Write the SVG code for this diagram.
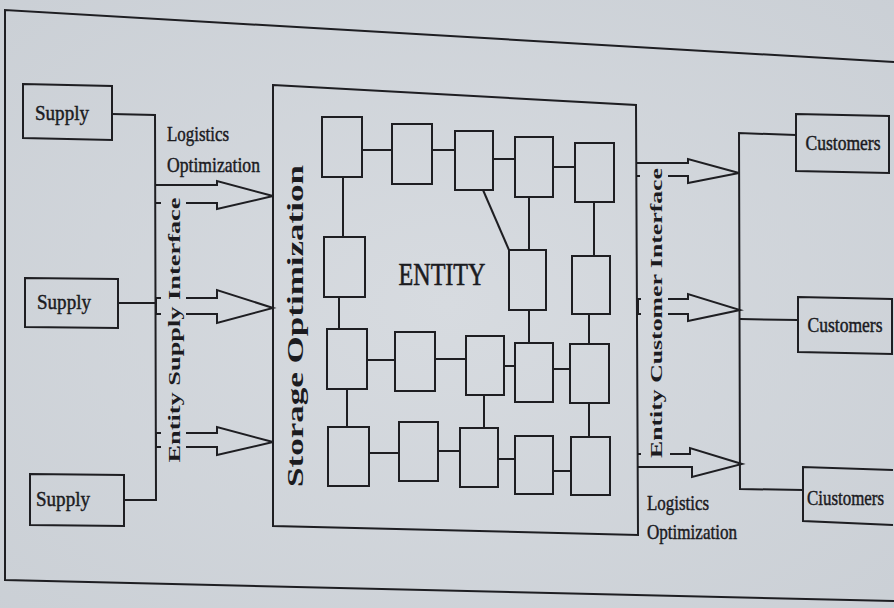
<svg xmlns="http://www.w3.org/2000/svg" width="894" height="608" viewBox="0 0 894 608">
  <defs>
    <radialGradient id="paper" cx="50%" cy="50%" r="75%">
      <stop offset="0" stop-color="#d7dbe0"/>
      <stop offset="1" stop-color="#cacfd5"/>
    </radialGradient>
  </defs>
  <style>
    .ln { fill: none; stroke: #1e1e22; stroke-width: 2; stroke-linejoin: miter; }
    .box { fill: none; stroke: #1e1e22; stroke-width: 2; }
    .lbl { font-family: "Liberation Serif", "Times New Roman", serif; font-size: 21px; fill: #1b1b1f; stroke: #1b1b1f; stroke-width: 0.45; }
    .cust { font-size: 20px; }
    .vt { font-family: "Liberation Serif", "Times New Roman", serif; font-weight: bold; fill: #1b1b1f; }
    .ent { font-family: "Liberation Serif", "Times New Roman", serif; font-size: 31px; fill: #1b1b1f; stroke: #1b1b1f; stroke-width: 0.6; }
  </style>

  <!-- page -->
  <rect x="0" y="0" width="894" height="608" fill="url(#paper)"/>

  <!-- outer frame (open on the right) -->
  <polyline class="ln" points="894,62 5,10 5,580 894,601"/>

  <!-- supply side -->
  <g id="supply-1">
    <polygon class="box" points="23,84 112,86 112,140 23,138"/>
    <text class="lbl" x="62" y="120" text-anchor="middle" textLength="54" lengthAdjust="spacingAndGlyphs">Supply</text>
  </g>
  <g id="supply-2">
    <polygon class="box" points="25,278 118,279 118,328 25,327"/>
    <text class="lbl" x="64" y="309" text-anchor="middle" textLength="54" lengthAdjust="spacingAndGlyphs">Supply</text>
  </g>
  <g id="supply-3">
    <polygon class="box" points="30,474 124,475 124,526 30,525"/>
    <text class="lbl" x="63" y="506" text-anchor="middle" textLength="54" lengthAdjust="spacingAndGlyphs">Supply</text>
  </g>

  <g id="supply-labels">
    <text class="lbl" x="167" y="141" textLength="62" lengthAdjust="spacingAndGlyphs">Logistics</text>
    <text class="lbl" x="167" y="172" textLength="93" lengthAdjust="spacingAndGlyphs">Optimization</text>
    <text class="vt" font-size="17" transform="translate(180,330) rotate(-90)" text-anchor="middle" textLength="265" lengthAdjust="spacingAndGlyphs">Entity Supply Interface</text>
  </g>

  <!-- storage / entity block -->
  <g id="storage">
    <polygon class="box" points="273,85 636,105 638,535 273,526"/>
    <text class="vt" font-size="24" transform="translate(303,326) rotate(-90)" text-anchor="middle" textLength="322" lengthAdjust="spacingAndGlyphs">Storage Optimization</text>
    <text class="ent" x="442" y="285" text-anchor="middle" textLength="87" lengthAdjust="spacingAndGlyphs">ENTITY</text>
  </g>

  <g id="cells">
    <!-- row 1 -->
    <rect id="a1" class="box" x="322" y="117" width="40" height="60"/>
    <rect id="a2" class="box" x="392" y="124" width="40" height="60"/>
    <rect id="a3" class="box" x="455" y="131" width="38" height="59"/>
    <rect id="a4" class="box" x="515" y="137" width="38" height="60"/>
    <rect id="a5" class="box" x="575" y="143" width="39" height="59"/>
    <!-- row 2 -->
    <rect id="b1" class="box" x="324" y="237" width="41" height="60"/>
    <rect id="b4" class="box" x="509" y="250" width="37" height="60"/>
    <rect id="b5" class="box" x="572" y="256" width="38" height="58"/>
    <!-- row 3 -->
    <rect id="c1" class="box" x="327" y="329" width="40" height="60"/>
    <rect id="c2" class="box" x="395" y="332" width="40" height="59"/>
    <rect id="c3" class="box" x="466" y="336" width="38" height="59"/>
    <rect id="c4" class="box" x="515" y="343" width="38" height="59"/>
    <rect id="c5" class="box" x="570" y="344" width="39" height="59"/>
    <!-- row 4 -->
    <rect id="d1" class="box" x="328" y="427" width="41" height="59"/>
    <rect id="d2" class="box" x="399" y="422" width="39" height="59"/>
    <rect id="d3" class="box" x="460" y="428" width="38" height="59"/>
    <rect id="d4" class="box" x="515" y="436" width="38" height="58"/>
    <rect id="d5" class="box" x="571" y="437" width="39" height="58"/>
  </g>

  <!-- customer side -->
  <g id="customers-1">
    <polygon class="box" points="796,114 889,116 889,173 796,171"/>
    <text class="lbl cust" x="843" y="150" text-anchor="middle" textLength="75" lengthAdjust="spacingAndGlyphs">Customers</text>
  </g>
  <g id="customers-2">
    <polygon class="box" points="798,297 892,299 892,354 798,352"/>
    <text class="lbl cust" x="845" y="332" text-anchor="middle" textLength="75" lengthAdjust="spacingAndGlyphs">Customers</text>
  </g>
  <g id="customers-3">
    <polyline class="box" points="893,470 803,467 803,521 893,525"/>
    <text class="lbl" font-size="17" x="807" y="505" textLength="77" lengthAdjust="spacingAndGlyphs">Ciustomers</text>
  </g>

  <g id="customer-labels">
    <text class="vt" font-size="17" transform="translate(662,313) rotate(-90)" text-anchor="middle" textLength="290" lengthAdjust="spacingAndGlyphs">Entity Customer Interface</text>
    <text class="lbl" x="647" y="510" textLength="62" lengthAdjust="spacingAndGlyphs">Logistics</text>
    <text class="lbl" x="647" y="539" textLength="90" lengthAdjust="spacingAndGlyphs">Optimization</text>
  </g>

  <!-- connectors -->
  <g id="connectors">
    <!-- supply bus -->
    <polyline class="ln" points="112,114 155,115 156,500 124,500"/>
    <line class="ln" x1="118" y1="303" x2="156" y2="303"/>

    <!-- block arrows into storage -->
    <polyline class="ln" points="156,185 217,185 217,181 273,196 217,209 217,203 186,203"/>
    <line class="ln" x1="156" y1="203" x2="161" y2="203"/>
    <polyline class="ln" points="186,298 217,298 217,290 273,308 217,323 217,314 186,314"/>
    <polyline class="ln" points="161,298 156,298 156,314 161,314"/>
    <polyline class="ln" points="186,433 217,433 217,427 273,442 217,455 217,447 186,447"/>
    <polyline class="ln" points="161,433 156,433 156,447 161,447"/>

    <!-- cell links row 1 -->
    <line class="ln" x1="362" y1="150" x2="392" y2="150"/>
    <line class="ln" x1="432" y1="150" x2="455" y2="150"/>
    <line class="ln" x1="493" y1="159" x2="515" y2="159"/>
    <line class="ln" x1="553" y1="167" x2="575" y2="167"/>
    <!-- row 1 to row 2 -->
    <line class="ln" x1="343" y1="177" x2="343" y2="237"/>
    <line class="ln" x1="483" y1="190" x2="509" y2="250"/>
    <line class="ln" x1="529" y1="197" x2="529" y2="250"/>
    <line class="ln" x1="594" y1="202" x2="594" y2="256"/>
    <!-- row 2 to row 3 -->
    <line class="ln" x1="339" y1="297" x2="339" y2="329"/>
    <line class="ln" x1="529" y1="310" x2="529" y2="343"/>
    <line class="ln" x1="589" y1="314" x2="589" y2="344"/>
    <!-- row 3 links -->
    <line class="ln" x1="367" y1="360" x2="395" y2="360"/>
    <line class="ln" x1="435" y1="359" x2="466" y2="359"/>
    <line class="ln" x1="504" y1="366" x2="515" y2="366"/>
    <line class="ln" x1="553" y1="369" x2="570" y2="369"/>
    <!-- row 3 to row 4 -->
    <line class="ln" x1="347" y1="389" x2="347" y2="427"/>
    <line class="ln" x1="484" y1="395" x2="484" y2="428"/>
    <line class="ln" x1="589" y1="403" x2="589" y2="437"/>
    <!-- row 4 links -->
    <line class="ln" x1="369" y1="453" x2="399" y2="453"/>
    <line class="ln" x1="438" y1="451" x2="460" y2="451"/>
    <line class="ln" x1="498" y1="459" x2="515" y2="459"/>
    <line class="ln" x1="553" y1="471" x2="571" y2="471"/>

    <!-- block arrows out to customers -->
    <polyline class="ln" points="637,163 688,163 688,159 739,173 688,183 688,176 668,176"/>
    <line class="ln" x1="637" y1="176" x2="640" y2="176"/>
    <polyline class="ln" points="668,299 688,299 688,294 740,310 688,321 688,314 668,314"/>
    <polyline class="ln" points="641,299 638,299 638,314 641,314"/>
    <polyline class="ln" points="670,454 690,454 690,448 742,464 692,477 692,467 638,467"/>
    <line class="ln" x1="638" y1="454" x2="641" y2="454"/>

    <!-- customer bus -->
    <polyline class="ln" points="796,135 739,133 740,489 803,490"/>
    <line class="ln" x1="740" y1="319" x2="798" y2="320"/>
  </g>
</svg>
